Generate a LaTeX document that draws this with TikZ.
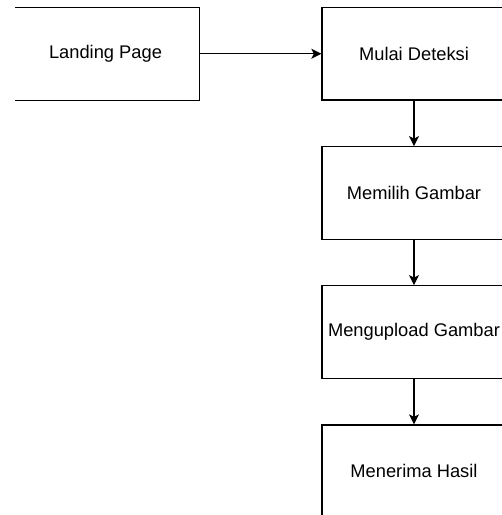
\documentclass[tikz,border=0pt]{standalone}
\usepackage{fontspec}
\setmainfont{Liberation Sans}
\usetikzlibrary{arrows.meta}
\begin{document}
\begin{tikzpicture}[x=1pt,y=-1pt,
  box/.style={minimum width=184pt,minimum height=92.5pt,inner sep=0pt,
    font=\fontsize{18.3pt}{22pt}\selectfont,text=black},
  drawnbox/.style={box,draw=black,line width=1.3pt},
  flow/.style={draw=black,line width=1.3pt,-{Stealth[length=10pt,width=10pt,inset=2.5pt]}}]
\useasboundingbox (0,0) rectangle (502,515);
\clip (0,0) rectangle (502,515);
\node[box] (lp) at (107,53.75) {};
\node[font=\fontsize{18.3pt}{22pt}\selectfont] (lpt) at (105.5,53.75) {Landing Page};
\draw[line width=1.3pt] (lp.north west) -- (lp.north east) -- (lp.south east) -- (lp.south west);
\node[drawnbox] (md) at (414,53.75) {Mulai Deteksi};
\node[drawnbox] (mg) at (414,193) {Memilih Gambar};
\node[drawnbox] (mu) at (414,332) {Mengupload Gambar};
\node[drawnbox] (mh) at (414,471.25) {Menerima Hasil};
\draw[flow] (lp.east) -- (md.west);
\draw[flow] (md.south) -- (mg.north);
\draw[flow] (mg.south) -- (mu.north);
\draw[flow] (mu.south) -- (mh.north);
\end{tikzpicture}
\end{document}
